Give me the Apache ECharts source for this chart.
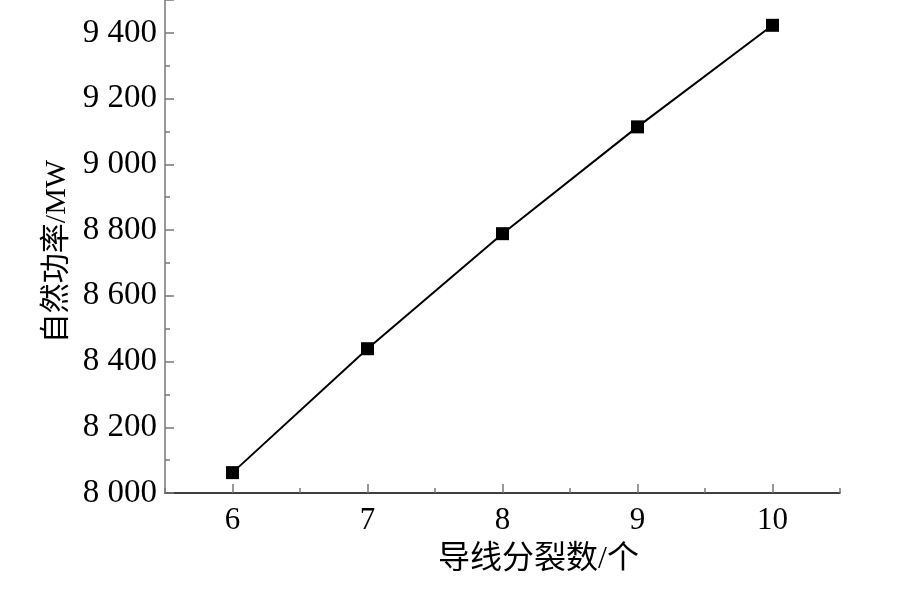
<!DOCTYPE html>
<html><head><meta charset="utf-8">
<script src="https://cdn.jsdelivr.net/npm/echarts@6/dist/echarts.min.js"></script>
<style>html,body{margin:0;padding:0;background:#fff}#c{width:907px;height:594px}</style>
</head><body><div id="c"></div>
<script>
const splitCounts = [6, 7, 8, 9, 10];
const naturalPower = [8062, 8439, 8789, 9114, 9423];
const xTickValues = [6, 7, 8, 9, 10];
const xTitle = '导线分裂数/个';
const yTitle = '自然功率/MW';

const serif = '"Liberation Serif", "Noto Sans CJK SC", serif';
const chart = echarts.init(document.getElementById('c'), null, {renderer: 'canvas'});
chart.setOption({
  animation: false,
  backgroundColor: '#fff',
  grid: {left: 165, right: 67, top: -1, bottom: 101, containLabel: false},
  xAxis: [{
    type: 'value', min: 5.5, max: 10.5, position: 'bottom',
    name: xTitle, nameLocation: 'middle', nameGap: 51,
    nameTextStyle: {fontFamily: serif, fontSize: 32, color: '#000', padding: [0, 0, 0, 72]},
    axisLine: {show: true, lineStyle: {color: '#000', width: 1.5}},
    axisTick: {show: true, inside: true, length: 9, customValues: xTickValues, lineStyle: {color: '#777', width: 1.5}},
    splitLine: {show: false},
    axisLabel: {fontFamily: serif, fontSize: 31, color: '#000', margin: 12, customValues: xTickValues,
      formatter: v => String(v)}
  }, {
    type: 'value', min: 5.5, max: 10.5, interval: 0.5, position: 'bottom',
    axisLine: {show: false},
    axisTick: {show: true, inside: true, length: 5, lineStyle: {color: '#777', width: 1.5}},
    axisLabel: {show: false},
    splitLine: {show: false}
  }],
  yAxis: {
    type: 'value', min: 8000, max: 9500, interval: 200,
    name: yTitle, nameLocation: 'middle', nameGap: 90,
    nameTextStyle: {fontFamily: serif, fontSize: 30, color: '#000', padding: [0, 10, 0, 0]},
    axisLine: {show: true, lineStyle: {color: '#777', width: 1.5}},
    axisTick: {show: true, inside: true, length: 9, lineStyle: {color: '#777', width: 1.5}},
    minorTick: {show: true, splitNumber: 2, length: 5, lineStyle: {color: '#777', width: 1.5}},
    splitLine: {show: false},
    axisLabel: {fontFamily: serif, fontSize: 33, color: '#000', margin: 8,
      formatter: v => (v % 200 === 0 ? String(v).replace(/(\d)(\d{3})$/, '$1 $2') : '')}
  },
  series: [{
    type: 'line',
    xAxisIndex: 0,
    data: splitCounts.map((x, i) => [x, naturalPower[i]]),
    symbol: 'rect', symbolSize: 13,
    itemStyle: {color: '#000'},
    lineStyle: {color: '#000', width: 2},
    z: 3
  }]
});
</script></body></html>
